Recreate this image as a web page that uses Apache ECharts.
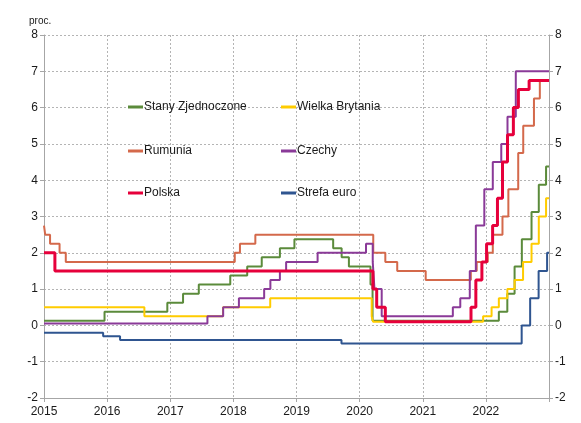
<!DOCTYPE html>
<html>
<head>
<meta charset="utf-8">
<script src="https://cdn.jsdelivr.net/npm/echarts@6/dist/echarts.min.js"></script>
<style>html,body{margin:0;padding:0;background:#fff}#c{width:581px;height:423px}</style>
</head>
<body>
<div id="c"></div>
<script>
// Tick labels
const yearTicks = [2015, 2016, 2017, 2018, 2019, 2020, 2021, 2022, 2023];
const valueTicks = [-2, -1, 0, 1, 2, 3, 4, 5, 6, 7, 8];
const seriesNames = ['Stany Zjednoczone', 'Wielka Brytania', 'Rumunia', 'Czechy', 'Polska', 'Strefa euro'];

// Change dates and new rate levels (each series: date when the rate took the value)
const usDates = ['2015-01-01','2015-12-17','2016-12-15','2017-03-16','2017-06-15','2017-12-14','2018-03-22','2018-06-14','2018-09-27','2018-12-20','2019-08-01','2019-09-19','2019-10-31','2020-03-04','2020-03-16','2022-03-17','2022-05-05','2022-06-16','2022-07-28','2022-09-22','2022-11-03','2022-12-15','2023-01-01'];
const usValues = [0.125,0.375,0.625,0.875,1.125,1.375,1.625,1.875,2.125,2.375,2.125,1.875,1.625,1.125,0.125,0.375,0.875,1.625,2.375,3.125,3.875,4.375,4.375];

const ukDates = ['2015-01-01','2016-08-04','2017-11-02','2018-08-02','2020-03-11','2020-03-19','2021-12-16','2022-02-03','2022-03-17','2022-05-05','2022-06-16','2022-08-04','2022-09-22','2022-11-03','2022-12-15','2023-01-01'];
const ukValues = [0.5,0.25,0.5,0.75,0.25,0.1,0.25,0.5,0.75,1.0,1.25,1.75,2.25,3.0,3.5,3.5];

const roDates = ['2015-01-01','2015-01-08','2015-02-05','2015-04-01','2015-05-07','2018-01-09','2018-02-08','2018-05-08','2020-03-20','2020-05-29','2020-08-06','2021-01-18','2021-10-06','2021-11-09','2022-01-12','2022-02-10','2022-04-07','2022-05-11','2022-07-07','2022-08-05','2022-10-06','2022-11-09','2023-01-01'];
const roValues = [2.75,2.5,2.25,2.0,1.75,2.0,2.25,2.5,2.0,1.75,1.5,1.25,1.5,1.75,2.0,2.5,3.0,3.75,4.75,5.5,6.25,6.75,6.75];

const czDates = ['2015-01-01','2017-08-04','2017-11-03','2018-02-02','2018-06-28','2018-08-03','2018-09-27','2018-11-02','2019-05-03','2020-02-07','2020-03-17','2020-03-27','2020-05-08','2021-06-24','2021-08-06','2021-09-30','2021-11-04','2021-12-23','2022-02-10','2022-03-31','2022-05-06','2022-06-23','2023-01-01'];
const czValues = [0.05,0.25,0.5,0.75,1.0,1.25,1.5,1.75,2.0,2.25,1.75,1.0,0.25,0.5,0.75,1.5,2.75,3.75,4.5,5.0,5.75,7.0,7.0];

const plDates = ['2015-01-01','2015-03-05','2020-03-18','2020-04-09','2020-05-29','2021-10-07','2021-11-04','2021-12-09','2022-01-05','2022-02-09','2022-03-09','2022-04-07','2022-05-06','2022-06-09','2022-07-08','2022-09-08','2023-01-01'];
const plValues = [2.0,1.5,1.0,0.5,0.1,0.5,1.25,1.75,2.25,2.75,3.5,4.5,5.25,6.0,6.5,6.75,6.75];

const euDates = ['2015-01-01','2015-12-09','2016-03-16','2019-09-18','2022-07-27','2022-09-14','2022-11-02','2022-12-21','2023-01-01'];
const euValues = [-0.2,-0.3,-0.4,-0.5,0.0,0.75,1.5,2.0,2.0];

const colors = ['#5B8B3B', '#FFCC00', '#D4694B', '#8A3A98', '#E6003B', '#2F5590'];
const widths = [2, 2, 2, 2, 3, 2];

function toYear(s) {
  const d = new Date(s + 'T00:00:00Z');
  const y = d.getUTCFullYear();
  const start = Date.UTC(y, 0, 1), end = Date.UTC(y + 1, 0, 1);
  return y + (d.getTime() - start) / (end - start);
}
function pairs(dates, vals) { return dates.map((d, i) => [toYear(d), vals[i]]); }

const allData = [
  pairs(usDates, usValues), pairs(ukDates, ukValues), pairs(roDates, roValues),
  pairs(czDates, czValues), pairs(plDates, plValues), pairs(euDates, euValues)
];

const font = '"Liberation Sans", Arial, sans-serif';
const chart = echarts.init(document.getElementById('c'));

const legendPos = [[128, 101], [281, 101], [128, 145], [281, 145], [128, 187], [281, 187]];

const axisY = (pos) => ({
  type: 'value', position: pos, min: -2, max: 8, interval: 1,
  axisLine: { show: true, lineStyle: { color: '#a6a6a6', width: 1 } },
  axisTick: { show: true, length: 4, lineStyle: { color: '#a6a6a6' } },
  axisLabel: { color: '#1a1a1a', fontSize: 12, fontFamily: font, margin: 6 },
  splitLine: { show: pos === 'left', lineStyle: { color: '#b4b4b4', type: [2, 2], width: 1 } }
});

chart.setOption({
  animation: false,
  color: colors,
  title: { text: 'proc.', left: 24, top: 11, textStyle: { fontSize: 10, fontWeight: 'normal', color: '#1a1a1a', fontFamily: font } },
  grid: { left: 44, right: 32, top: 35, bottom: 25 },
  legend: seriesNames.map((n, i) => ({
    data: [n], left: legendPos[i][0], top: legendPos[i][1], padding: 0,
    icon: 'rect', itemWidth: 15, itemHeight: 3, itemGap: 0,
    textStyle: { fontSize: 12, color: '#1a1a1a', fontFamily: font, padding: [0, 0, 0, -4] }
  })),
  xAxis: {
    type: 'value', min: yearTicks[0], max: yearTicks[yearTicks.length - 1], interval: 1,
    axisLine: { show: true, onZero: false, lineStyle: { color: '#a6a6a6' } },
    axisTick: { show: true, length: 4, lineStyle: { color: '#a6a6a6' } },
    axisLabel: { color: '#1a1a1a', fontSize: 12, fontFamily: font, margin: 8,
      formatter: v => (v === yearTicks[yearTicks.length - 1] ? '' : String(v)) },
    splitLine: { show: true, lineStyle: { color: '#b4b4b4', type: [2, 2], width: 1 } }
  },
  yAxis: [axisY('left'), axisY('right')],
  series: seriesNames.map((n, i) => ({
    name: n, type: 'line', step: 'end', data: allData[i], symbol: 'none',
    lineStyle: { color: colors[i], width: widths[i] }, itemStyle: { color: colors[i] },
    z: i === 4 ? 5 : 2
  }))
});
</script>
</body>
</html>
